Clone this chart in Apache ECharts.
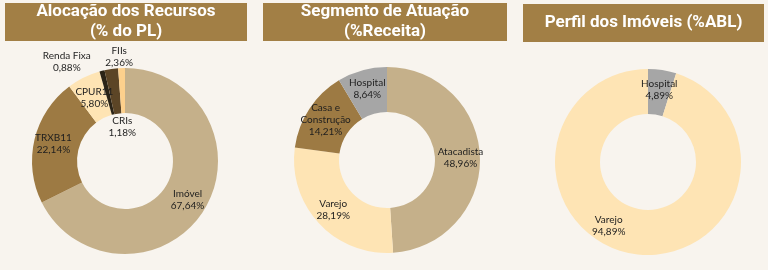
<!DOCTYPE html>
<html>
<head>
<meta charset="utf-8">
<script src="https://cdn.jsdelivr.net/npm/echarts@6/dist/echarts.min.js"></script>
<style>
  html, body { margin: 0; padding: 0; background: #f8f4ee; }
  #chart { width: 768px; height: 270px; }
</style>
</head>
<body>
<div id="chart"></div>
<script>
// Alocação dos Recursos (% do PL)
const alocacaoNames = ['Imóvel', 'TRXB11', 'CPUR11', 'Renda Fixa', 'FIIs', 'CRIs']
const alocacaoValues = [67.64, 22.14, 5.80, 0.88, 2.36, 1.18]

// Segmento de Atuação (%Receita)
const segmentoNames = ['Atacadista', 'Varejo', 'Casa e\nConstrução', 'Hospital']
const segmentoValues = [48.96, 28.19, 14.21, 8.64]

// Perfil dos Imóveis (%ABL)
const perfilNames = ['Hospital', 'Varejo']
const perfilValues = [4.89, 94.89]

const titles = ['Alocação dos Recursos\n(% do PL)', 'Segmento de Atuação\n(%Receita)', 'Perfil dos Imóveis (%ABL)']

const colorMap = {
  'Imóvel': '#c5b08a',
  'Atacadista': '#c5b08a',
  'TRXB11': '#9d7a43',
  'Casa e\nConstrução': '#9d7a43',
  'CPUR11': '#fee4b4',
  'Varejo': '#fee4b4',
  'Renda Fixa': '#2b2417',
  'FIIs': '#5c4526',
  'CRIs': '#fdd08c',
  'Hospital': '#a6a6a6'
}

// label nudges for the thin slices
const labelOffsets = {
  0: { 'Renda Fixa': [-40, -28], 'FIIs': [5, -32], 'CRIs': [0, 39], 'CPUR11': [2, 3] },
  1: {},
  2: { 'Varejo': [-28, -9] }
}

function fmt(v) {
  return v.toFixed(2).replace('.', ',') + '%'
}

function buildData(names, values, idx) {
  return names.map((n, i) => {
    const item = { name: n, value: values[i], itemStyle: { color: colorMap[n] } }
    const off = labelOffsets[idx][n]
    if (off) item.label = { offset: off }
    return item
  })
}

function pieSeries(names, values, idx, center) {
  return {
    type: 'pie',
    center: center,
    radius: [48, 93],
    startAngle: 90,
    clockwise: true,
    silent: true,
    animation: false,
    data: buildData(names, values, idx),
    label: {
      show: true,
      position: 'inside',
      color: '#1e1e1e',
      fontFamily: 'Lato',
      fontSize: 10,
      lineHeight: 12,
      formatter: p => p.name + '\n' + fmt(p.value)
    },
    labelLine: { show: false }
  }
}

const boxes = [
  { x: 5, y: 3, w: 242, h: 38 },
  { x: 263, y: 3, w: 244, h: 38 },
  { x: 523, y: 4, w: 241, h: 38 }
]

const chart = echarts.init(document.getElementById('chart'))
chart.setOption({
  backgroundColor: '#f8f4ee',
  graphic: boxes.map((b, i) => ({
    type: 'rect',
    shape: { x: b.x, y: b.y, width: b.w, height: b.h },
    style: { fill: '#a27f45' },
    textContent: {
      style: {
        text: titles[i],
        fill: '#fff',
        font: 'bold 17px Roboto',
        lineHeight: 20,
        align: 'center'
      }
    },
    textConfig: { position: 'inside' }
  })),
  series: [
    pieSeries(alocacaoNames, alocacaoValues, 0, [125, 161]),
    pieSeries(segmentoNames, segmentoValues, 1, [387, 160]),
    pieSeries(perfilNames, perfilValues, 2, [648, 162])
  ]
})
</script>
</body>
</html>
